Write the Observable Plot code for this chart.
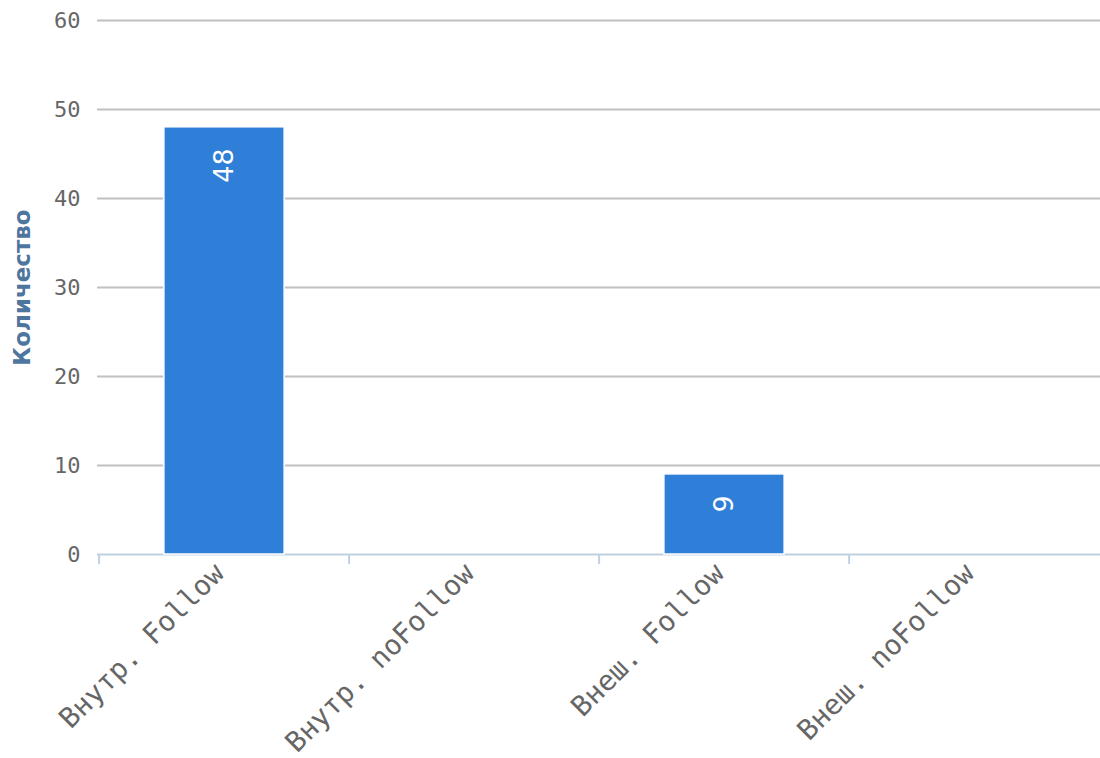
<!DOCTYPE html>
<html>
<head>
<meta charset="utf-8">
<script src="https://cdn.jsdelivr.net/npm/d3@7"></script>
<script src="https://cdn.jsdelivr.net/npm/@observablehq/plot@0.6"></script>
<style>
  html, body { margin: 0; padding: 0; background: #fff; }
  #chart svg { display: block; }
</style>
</head>
<body>
<div id="chart"></div>
<script>
const categories = ["Внутр. Follow", "Внутр. noFollow", "Внеш. Follow", "Внеш. noFollow"];
const values = [48, 0, 9, 0];
const yTicks = [0, 10, 20, 30, 40, 50, 60];
const yTitle = "Количество";

const data = categories.map((c, i) => ({cat: c, value: values[i]}));

const W = 1100, H = 758, mL = 97, mR = 0, mT = 20, mB = 204;
const bw = (W - mL - mR) / categories.length;
const barW = 121;
const inset = (bw - barW) / 2;

const chart = Plot.plot({
  width: W,
  height: H,
  marginLeft: mL,
  marginRight: mR,
  marginTop: mT,
  marginBottom: mB,
  style: {background: "#fff"},
  x: {domain: categories, padding: 0, axis: null},
  y: {domain: [0, 60], axis: null},
  marks: [
    Plot.gridY(yTicks.filter(t => t !== 0), {stroke: "#c0c0c0", strokeOpacity: 1, strokeWidth: 2}),
    Plot.axisY(yTicks, {tickSize: 0, tickPadding: 17, fontSize: 22, fontFamily: "DejaVu Sans Mono", fill: "#666666", label: null}),
    Plot.ruleY([0], {stroke: "#c0d0e0", strokeWidth: 2}),
    Plot.axisX({tickSize: 10, tickFormat: () => "", stroke: "#c0d0e0", strokeWidth: 2, dx: -bw / 2, label: null}),
    Plot.barY(data.filter(d => d.value > 0), {x: "cat", y: "value", fill: "#2f7ed8", stroke: "#ffffff", strokeWidth: 1.5, insetLeft: inset, insetRight: inset}),
    Plot.text(data.filter(d => d.value > 0), {x: "cat", y: "value", text: d => String(d.value), rotate: -90, textAnchor: "end", lineAnchor: "middle", dy: 21, fill: "#ffffff", fontSize: 27, fontFamily: "DejaVu Sans"}),
    Plot.text(categories, {x: d => d, frameAnchor: "bottom", text: d => d, rotate: -45, textAnchor: "end", lineAnchor: "middle", dy: 14, dx: -5, fill: "#666666", fontSize: 28, fontFamily: "DejaVu Sans Mono"}),
    Plot.text([yTitle], {frameAnchor: "left", text: d => d, rotate: -90, textAnchor: "middle", dx: -75, fill: "#4d759e", fontWeight: "bold", fontSize: 23, fontFamily: "DejaVu Sans"})
  ]
});
document.getElementById("chart").appendChild(chart);
</script>
</body>
</html>
